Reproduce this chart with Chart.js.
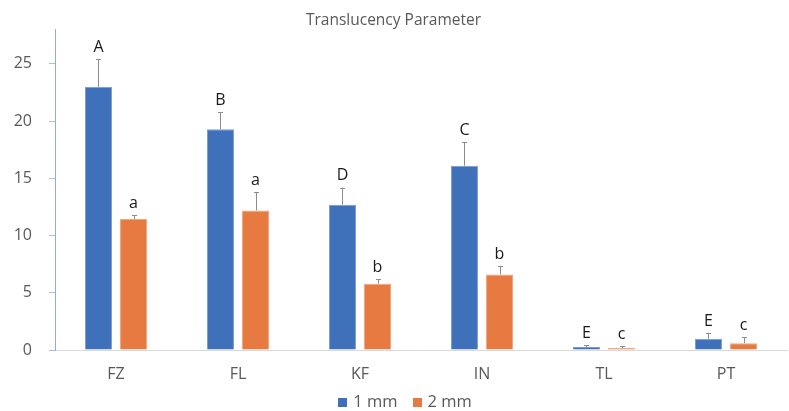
<!DOCTYPE html>
<html>
<head>
<meta charset="utf-8">
<script src="https://cdn.jsdelivr.net/npm/chart.js@4.4.1/dist/chart.umd.min.js"></script>
<style>
  html, body { margin: 0; padding: 0; background: #fff; }
  #wrap { width: 789px; height: 411px; }
</style>
</head>
<body>
<div id="wrap"><canvas id="chart" width="789" height="411"></canvas></div>
<script>
// Translucency parameter by material and thickness (mean ± SD)
const categories = ['FZ', 'FL', 'KF', 'IN', 'TL', 'PT'];
const mean1mm = [23.0, 19.3, 12.7, 16.1, 0.26, 0.98];
const sd1mm   = [2.4, 1.5, 1.5, 2.05, 0.14, 0.5];
const mean2mm = [11.45, 12.2, 5.8, 6.6, 0.17, 0.6];
const sd2mm   = [0.35, 1.6, 0.37, 0.7, 0.14, 0.53];
const groups1mm = ['A', 'B', 'D', 'C', 'E', 'E'];
const groups2mm = ['a', 'a', 'b', 'b', 'c', 'c'];
const yTicks = [0, 5, 10, 15, 20, 25];

const FONT = '"Open Sans", "Noto Sans", sans-serif';
const GREY = '#595959';

// Error bars and significance letters above each bar
const errorBarPlugin = {
  id: 'errorBars',
  afterDatasetsDraw(chart) {
    const { ctx, scales: { y } } = chart;
    chart.data.datasets.forEach((ds, di) => {
      const meta = chart.getDatasetMeta(di);
      if (meta.hidden) return;
      meta.data.forEach((bar, i) => {
        const v = ds.data[i];
        const top = y.getPixelForValue(v + ds.sd[i]);
        const base = y.getPixelForValue(v);
        const cx = Math.round(bar.x) + 0.5;
        ctx.save();
        ctx.strokeStyle = '#8c8c8c';
        ctx.lineWidth = 1;
        ctx.beginPath();
        ctx.moveTo(cx, base);
        ctx.lineTo(cx, top);
        ctx.moveTo(cx - 2.5, Math.round(top) + 0.5);
        ctx.lineTo(cx + 2.5, Math.round(top) + 0.5);
        ctx.stroke();
        ctx.fillStyle = '#1a1a1a';
        ctx.font = '16px ' + FONT;
        ctx.textAlign = 'center';
        ctx.textBaseline = 'middle';
        ctx.fillText(ds.groups[i], bar.x, top - 12);
        ctx.restore();
      });
    });
  }
};

// Compact legend row under the category axis, built from the dataset labels/colours
const bottomLegendPlugin = {
  id: 'bottomLegend',
  afterDraw(chart) {
    const { ctx } = chart;
    const box = 9, textGap = 6, itemGap = 15, centerX = 405, centerY = 402;
    ctx.save();
    ctx.font = '16.5px ' + FONT;
    ctx.textBaseline = 'middle';
    ctx.textAlign = 'left';
    const items = chart.data.datasets.map(ds => ({
      text: ds.label,
      color: ds.backgroundColor,
      w: box + textGap + ctx.measureText(ds.label).width
    }));
    const total = items.reduce((s, it) => s + it.w, 0) + itemGap * (items.length - 1);
    let x = centerX - total / 2;
    items.forEach(it => {
      ctx.fillStyle = it.color;
      ctx.fillRect(Math.round(x), Math.round(centerY - box / 2), box, box);
      ctx.fillStyle = GREY;
      ctx.fillText(it.text, x + box + textGap, centerY);
      x += it.w + itemGap;
    });
    ctx.restore();
  }
};

new Chart(document.getElementById('chart'), {
  type: 'bar',
  data: {
    labels: categories,
    datasets: [
      {
        label: '1 mm',
        data: mean1mm,
        sd: sd1mm,
        groups: groups1mm,
        backgroundColor: '#3F70BA',
        borderColor: '#7C9BD0',
        borderWidth: 1,
        categoryPercentage: 0.574,
        barPercentage: 0.77
      },
      {
        label: '2 mm',
        data: mean2mm,
        sd: sd2mm,
        groups: groups2mm,
        backgroundColor: '#E67A40',
        borderColor: '#F0A57C',
        borderWidth: 1,
        categoryPercentage: 0.574,
        barPercentage: 0.77
      }
    ]
  },
  options: {
    responsive: false,
    animation: false,
    devicePixelRatio: 1,
    layout: { padding: { left: 0, right: 2, top: 0, bottom: 0 } },
    plugins: {
      title: {
        display: true,
        text: 'Translucency Parameter',
        color: GREY,
        font: { family: FONT, size: 15.5, weight: 'normal' },
        padding: { top: 11, bottom: 0 }
      },
      legend: { display: false },
      tooltip: { enabled: false }
    },
    scales: {
      x: {
        afterFit(scale) { scale.height = 61; },
        grid: { display: false },
        border: { display: true, color: '#D9D9D9', width: 1 },
        ticks: {
          color: GREY,
          font: { family: FONT, size: 16, lineHeight: 1.2 },
          padding: 7
        }
      },
      y: {
        min: 0,
        max: 28,
        afterBuildTicks(scale) {
          scale.ticks = yTicks.map(v => ({ value: v }));
        },
        afterFit(scale) { scale.width = 55; },
        grid: {
          drawOnChartArea: false,
          drawTicks: true,
          tickLength: 6,
          color: '#A9C1E8'
        },
        border: { display: true, color: '#8FAADC', width: 1 },
        ticks: {
          color: GREY,
          font: { family: FONT, size: 16 },
          padding: 17
        }
      }
    }
  },
  plugins: [errorBarPlugin, bottomLegendPlugin]
});
</script>
</body>
</html>
